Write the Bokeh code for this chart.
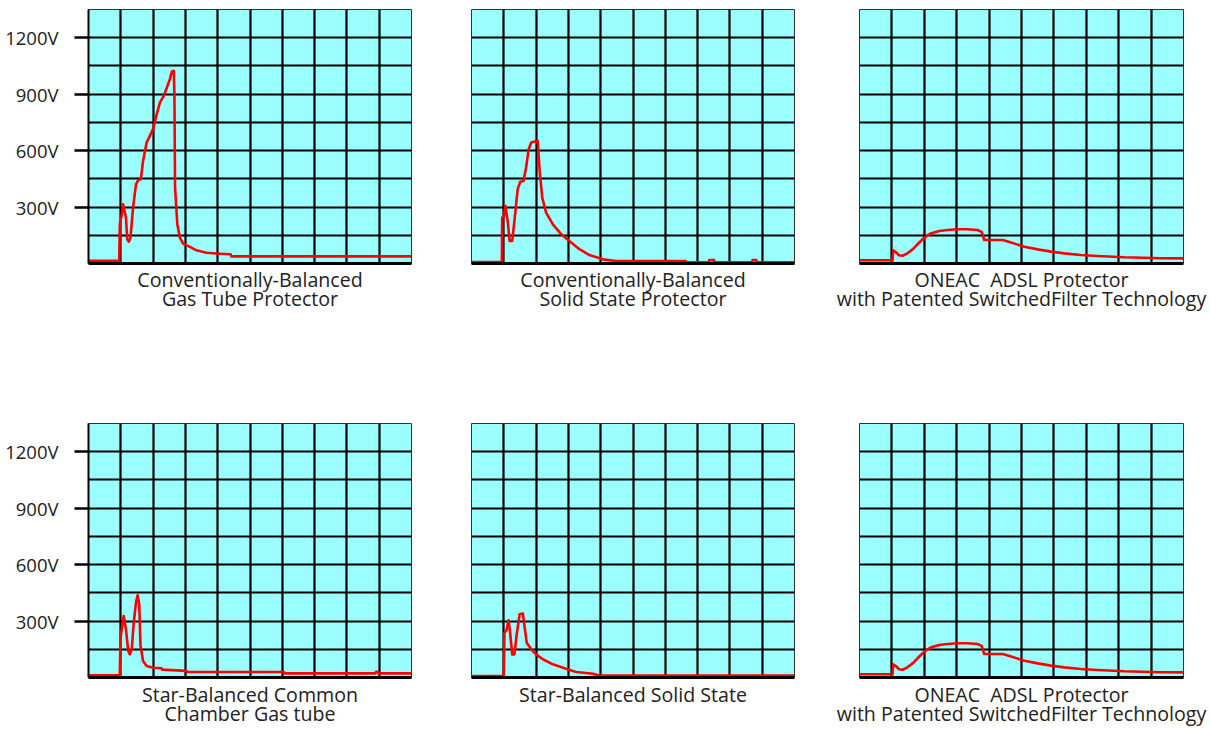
from bokeh.plotting import figure
from bokeh.models import Range1d, FixedTicker
from bokeh.layouts import column, row
from bokeh.embed import file_html
from bokeh.resources import INLINE

# ---------------- data (time in screen divisions, voltage in V) ----------------
gas_tube_x = [0, 0.95, 0.97, 1.02, 1.07, 1.16, 1.20, 1.25, 1.30, 1.38, 1.47, 1.54, 1.62, 1.69,
              1.80, 1.90, 2.00, 2.10, 2.21, 2.33, 2.41, 2.52, 2.58, 2.64, 2.66, 2.68, 2.75,
              2.83, 2.93, 3.14, 3.34, 3.65, 4.07, 4.40, 4.42, 10]
gas_tube_v = [15, 15, 210, 250, 315, 244, 129, 116, 137, 297, 421, 443, 448, 545,
              643, 678, 714, 785, 855, 891, 927, 980, 1020, 1024, 900, 403, 209,
              137, 105, 88, 70, 57, 52, 49, 38, 38]

solid_state_x = [0, 0.94, 0.95, 1.00, 1.05, 1.12, 1.18, 1.26, 1.33, 1.43, 1.51, 1.61, 1.69,
                 1.77, 1.85, 2.05, 2.11, 2.19, 2.31, 2.52, 2.78, 3.03, 3.34, 3.65, 4.07,
                 4.48, 6.63, 6.64, 7.35, 7.36, 7.51, 7.52, 8.69, 8.70, 8.82, 8.83, 10]
solid_state_v = [8, 8, 244, 250, 306, 226, 120, 120, 226, 395, 435, 439, 510,
                 607, 643, 652, 492, 350, 270, 208, 155, 120, 76, 45, 22,
                 13, 13, 6, 6, 18, 18, 6, 6, 18, 18, 6, 6]

adsl_x = [0, 1.02, 1.04, 1.12, 1.22, 1.33, 1.48, 1.64, 1.79, 2.00, 2.20, 2.46, 2.72, 3.02,
          3.33, 3.64, 3.77, 3.85, 4.42, 4.68, 5.09, 5.50, 5.91, 6.32, 6.83, 7.35, 8.17,
          9.30, 10]
adsl_v = [17, 17, 70, 61, 44, 41, 54, 75, 102, 137, 160, 173, 178, 182,
          182, 178, 168, 125, 125, 111, 89, 75, 63, 54, 45, 40, 33,
          28, 27]

star_gas_x = [0, 0.97, 0.99, 1.03, 1.09, 1.16, 1.23, 1.28, 1.34, 1.40, 1.47, 1.52, 1.57,
              1.61, 1.69, 1.80, 2.00, 2.26, 2.28, 3.03, 3.06, 6.05, 6.07, 8.88, 8.90,
              8.95, 8.97, 10]
star_gas_v = [12, 12, 203, 260, 327, 256, 141, 123, 150, 291, 398, 437, 389,
              168, 88, 61, 52, 49, 42, 35, 29, 29, 22, 22, 30,
              30, 22, 22]

star_solid_x = [0, 1.00, 1.02, 1.08, 1.15, 1.20, 1.26, 1.33, 1.40, 1.49, 1.59, 1.64, 1.71,
                1.85, 2.00, 2.21, 2.52, 2.83, 3.24, 3.76, 3.96, 10]
star_solid_v = [8, 8, 238, 250, 304, 230, 123, 123, 230, 336, 340, 274, 185,
                150, 123, 97, 70, 52, 29, 20, 10, 10]

titles = [
    "Conventionally-Balanced\nGas Tube Protector",
    "Conventionally-Balanced\nSolid State Protector",
    "ONEAC\u00a0 ADSL Protector\nwith Patented SwitchedFilter Technology",
    "Star-Balanced Common\nChamber Gas tube",
    "Star-Balanced Solid State",
    "ONEAC\u00a0 ADSL Protector\nwith Patented SwitchedFilter Technology",
]

y_tick_values = [300, 600, 900, 1200]
y_tick_labels = ["300V", "600V", "900V", "1200V"]
x_grid_values = [1, 2, 3, 4, 5, 6, 7, 8, 9]
y_grid_values = [150, 300, 450, 600, 750, 900, 1050, 1200]
x_max = 10
y_max = 1350

series = [(gas_tube_x, gas_tube_v), (solid_state_x, solid_state_v), (adsl_x, adsl_v),
          (star_gas_x, star_gas_v), (star_solid_x, star_solid_v), (adsl_x, adsl_v)]

FONT = "Open Sans"
TXT = "#222222"

col_borders = [(88, 30), (30, 30), (35, 25)]
col_frames = [323, 323, 324]
row_borders = [(9, 100), (60, 52)]
frame_h = 254
label_standoff = [2, 3]


def make_panel(i):
    r, c = divmod(i, 3)
    bl, br = col_borders[c]
    bt, bb = row_borders[r]
    w = bl + col_frames[c] + br
    h = bt + frame_h + bb
    p = figure(width=w, height=h, output_backend="svg", toolbar_location=None,
               x_range=Range1d(0, x_max), y_range=Range1d(0, y_max),
               min_border_left=bl, min_border_right=br,
               min_border_top=bt, min_border_bottom=bb)
    p.background_fill_color = "#9CFFFF"
    p.border_fill_color = "white"
    p.outline_line_color = "#333333"
    p.outline_line_width = 1

    # grid
    p.xgrid.ticker = FixedTicker(ticks=x_grid_values)
    p.ygrid.ticker = FixedTicker(ticks=y_grid_values)
    for g in (p.xgrid, p.ygrid):
        g.grid_line_color = "black"
        g.grid_line_width = 2.2
        g.level = "underlay"

    # x axis: thick base line + caption as axis label
    p.xaxis.ticker = FixedTicker(ticks=[])
    p.xaxis.major_label_text_font_size = "0px"
    p.xaxis.major_tick_out = 0
    p.xaxis.major_tick_in = 0
    p.xaxis.minor_tick_out = 0
    p.xaxis.axis_line_color = "black"
    p.xaxis.axis_line_width = 3
    p.xaxis.axis_label = titles[i]
    p.xaxis.axis_label_text_font = FONT
    p.xaxis.axis_label_text_font_size = "19.6px"
    p.xaxis.axis_label_text_font_style = "normal"
    p.xaxis.axis_label_text_color = TXT
    p.xaxis.axis_label_text_line_height = 0.712
    p.xaxis.axis_label_standoff = label_standoff[r]

    if c == 0:
        p.yaxis.ticker = FixedTicker(ticks=y_tick_values)
        p.yaxis.major_label_overrides = {v: s for v, s in zip(y_tick_values, y_tick_labels)}
        p.yaxis.major_tick_out = 14
        p.yaxis.major_tick_in = 0
        p.yaxis.minor_tick_out = 0
        p.yaxis.minor_tick_in = 0
        p.yaxis.major_tick_line_width = 2.5
        p.yaxis.major_tick_line_color = "black"
        p.yaxis.axis_line_color = "black"
        p.yaxis.axis_line_width = 2
        p.yaxis.major_label_standoff = 16
        p.yaxis.major_label_text_font = FONT
        p.yaxis.major_label_text_font_size = "18.5px"
        p.yaxis.major_label_text_color = TXT
    else:
        p.yaxis.visible = False

    xs, vs = series[i]
    p.line(xs, vs, line_color="#FF0000", line_width=2.6, line_join="round")
    return p


panels = [make_panel(i) for i in range(6)]
layout = column(row(*panels[:3]), row(*panels[3:]))

open("out.html", "w").write(file_html(layout, INLINE))
